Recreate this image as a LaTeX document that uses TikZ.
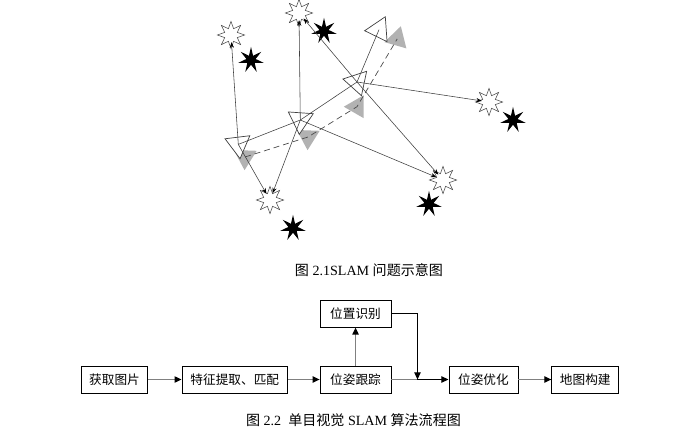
\documentclass[tikz,border=0pt]{standalone}
\usepackage{fontspec}
\setmainfont{Liberation Serif}
\newfontfamily\cjk{Noto Sans CJK SC}
\usetikzlibrary{shapes.geometric,arrows.meta,positioning}

\tikzset{
  est/.style={star, star points=8, star point ratio=2, draw=black!70, fill=white, line width=0.4pt, minimum size=0.68cm, inner sep=0pt},
  lmk/.style={star, star points=7, star point ratio=2.8, fill=black, minimum size=0.66cm, inner sep=0pt},
  pose/.style={regular polygon, regular polygon sides=3, draw=black!75, fill=white, line width=0.5pt, minimum size=0.72cm, inner sep=0pt},
  truepose/.style={regular polygon, regular polygon sides=3, fill=black!30, minimum size=0.66cm, inner sep=0pt},
  obs/.style={draw=black!75, line width=0.4pt, -{Stealth[length=4pt,width=3pt,black]}, shorten >=0.18cm},
  box/.style={draw, line width=0.6pt, fill=white, minimum height=0.675cm, inner sep=0pt, font=\fontsize{9}{11}\selectfont\cjk},
  flow/.style={draw=black!50, line width=0.9pt, -{Triangle[length=5pt,width=4.5pt,black]}},
  flowk/.style={draw=black, line width=0.6pt, -{Triangle[length=5pt,width=4.5pt,black]}},
  figcap/.style={font=\fontsize{10}{12}\selectfont}
}

\begin{document}
\begin{tikzpicture}[x=0.025cm, y=-0.025cm]
 \useasboundingbox (0,0) rectangle (696,434);
 % true poses and estimated poses
 \node[truepose, rotate=-62] (g1) at (245,157) {};
 \node[truepose, rotate=-62] (g2) at (308,137) {};
 \node[truepose, rotate=-30] (g3) at (357,106.7) {};
 \node[truepose, rotate=-16] (g4) at (397.2,38.9) {};
 \node[pose, rotate=-53] (t1) at (238.3,144.4) {};
 \node[pose, rotate=-64] (t2) at (300.3,120) {};
 \node[pose, rotate=-42] (t3) at (357,82) {};
 \node[pose, rotate=-26] (t4) at (379,29.7) {};
 % landmarks
 \node[est] (s1) at (231,35) {};
 \node[est] (s2) at (299,13) {};
 \node[est] (s3) at (489,102) {};
 \node[est] (s4) at (443,180) {};
 \node[est] (s5) at (270,200) {};
 \node[lmk] (b1) at (251,60) {};
 \node[lmk] (b2) at (324,31) {};
 \node[lmk] (b3) at (513,120) {};
 \node[lmk] (b4) at (429,204) {};
 \node[lmk] (b5) at (293,228) {};
 % trajectories
 \draw[black!70, line width=0.5pt, dash pattern=on 4.3pt off 2.8pt] (g1.center) -- (g2.center) -- (g3.center) -- (g4.center);
 \draw[black!75, line width=0.4pt] (t1.center) -- (t2.center) -- (t3.center) -- (t4.center);
 % observations
 \draw[obs] (t1.center) -- (s1.center);
 \draw[obs] (t1.center) -- (s5.center);
 \draw[obs] (t2.center) -- (s2.center);
 \draw[obs] (t2.center) -- (s5.center);
 \draw[obs] (t2.center) -- (s4.center);
 \draw[obs] (t3.center) -- (s2.center);
 \draw[obs] (t3.center) -- (s4.center);
 \draw[obs] (t3.center) -- (s3.center);
 \node[figcap] (cap1) at (369,270) {{\cjk 图} 2.1SLAM {\cjk 问题示意图}};

 % flow chart
 \node[box, minimum width=1.65cm] (img) at (114.5,379.5) {获取图片};
 \node[box, minimum width=2.64cm, right=0.84cm of img] (feat) {特征提取、匹配};
 \node[box, minimum width=1.775cm, right=0.79cm of feat] (track) {位姿跟踪};
 \node[box, minimum width=1.775cm, above=0.95cm of track] (place) {位置识别};
 \node[box, minimum width=1.725cm, right=1.425cm of track] (opt) {位姿优化};
 \node[box, minimum width=1.675cm, right=0.825cm of opt] (map) {地图构建};
 \coordinate[right=0.65cm of track.east] (join);
 \draw[flow] (img) -- (feat);
 \draw[flow] (feat) -- (track);
 \draw[flow] (track) -- (place);
 \draw[draw=black!50, line width=0.9pt] (track) -- (join);
 \draw[flowk] (join) -- (opt);
 \draw[flowk] (place.east) -| (join);
 \draw[flow] (opt) -- (map);
 \node[figcap] (cap2) at (353.5,420) {{\cjk 图} 2.2\ \ {\cjk 单目视觉} SLAM {\cjk 算法流程图}};
\end{tikzpicture}
\end{document}
